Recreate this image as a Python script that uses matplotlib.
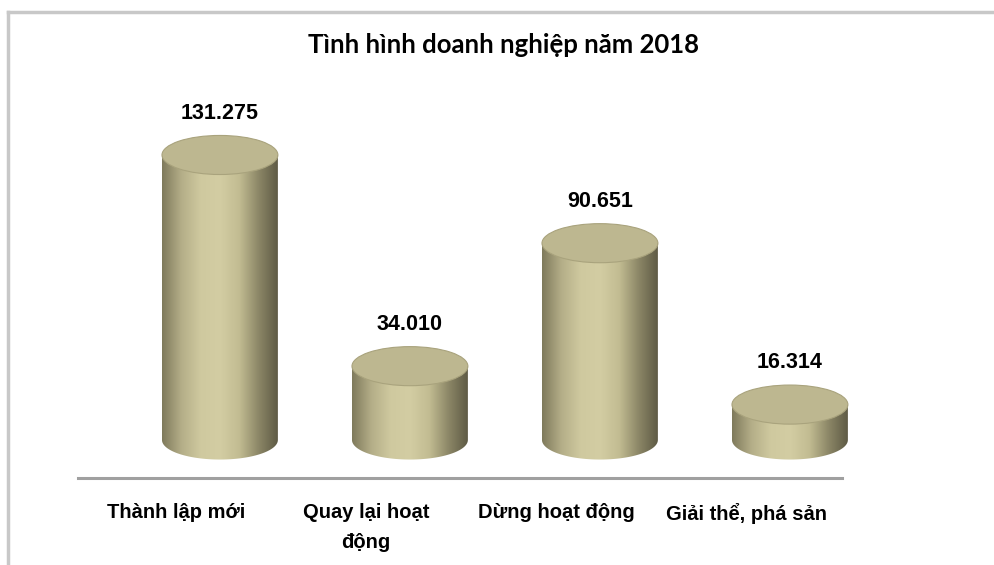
import numpy as np
import matplotlib
matplotlib.use("Agg")
import matplotlib.pyplot as plt
from matplotlib.patches import Ellipse, PathPatch
from matplotlib.path import Path
from matplotlib.colors import LinearSegmentedColormap
from matplotlib.lines import Line2D

title = "Tình hình doanh nghiệp năm 2018"
categories = ["Thành lập mới", "Quay lại hoạt\nđộng", "Dừng hoạt động", "Giải thể, phá sản"]
values = [131.275, 34.010, 90.651, 16.314]
value_labels = ["131.275", "34.010", "90.651", "16.314"]

body_cmap = LinearSegmentedColormap.from_list(
    "cyl", ["#7f7a5c", "#b4ae88", "#cfc99f", "#d3cda3", "#c2bc92", "#8c8767", "#5f5b45"])

fig = plt.figure(figsize=(9.95, 5.65), dpi=100)
# axes wider than the drawn baseline so the last cylinder is not clipped
ax = fig.add_axes([78 / 995, 1 - 478 / 565, (900 - 78) / 995, (478 - 100) / 565])

half_w = 0.305   # half cylinder width, x units
half_h = 9.0     # half ellipse height, y units

grad = np.linspace(0, 1, 256).reshape(1, -1)
for i, v in enumerate(values):
    x0, x1 = i - half_w, i + half_w
    t = np.linspace(np.pi, 2 * np.pi, 60)
    verts = list(zip(i + half_w * np.cos(t), half_h * np.sin(t)))
    verts += [(x1, v), (x0, v), (x0, 0)]
    codes = [Path.MOVETO] + [Path.LINETO] * (len(verts) - 2) + [Path.CLOSEPOLY]
    body = PathPatch(Path(verts, codes), facecolor="none", edgecolor="none")
    ax.add_patch(body)
    im = ax.imshow(grad, cmap=body_cmap, extent=(x0, x1, -half_h, v),
                   aspect="auto", zorder=2)
    im.set_clip_path(body)
    ax.add_patch(Ellipse((i, v), 2 * half_w, 2 * half_h, angle=0,
                         facecolor="#bdb790", edgecolor="#a9a37d", lw=0.8, zorder=3))
    ax.annotate(value_labels[i], (i, v), xytext=(0, 30), textcoords="offset points",
                ha="center", va="center", fontsize=15.5, fontweight="bold",
                family="Liberation Sans")

px_per_unit = 190
ax.set_xlim(-0.747, -0.747 + (900 - 78) / px_per_unit)
ax.set_ylim(-17.5, 156.6)
ax.spines["bottom"].set_bounds(-0.747, -0.747 + (842 - 78) / px_per_unit)
ax.set_xticks([i - 0.23 for i in range(len(categories))])
ax.set_xticklabels(categories, fontsize=14.5, fontweight="bold", family="Liberation Sans",
                   linespacing=1.75)
ax.tick_params(axis="x", length=0, pad=18)
ax.set_yticks([])
for s in ["top", "right", "left"]:
    ax.spines[s].set_visible(False)
ax.spines["bottom"].set_color("#a0a0a0")
ax.spines["bottom"].set_linewidth(2.2)
ax.patch.set_alpha(0)

fig.text(503 / 995, 1 - 45 / 565, title, ha="center", va="center",
         fontsize=18.5, fontweight="bold", family="Lato")

# outer frame of the original picture
fig.add_artist(Line2D([8 / 995, 1], [1 - 12 / 565, 1 - 12 / 565], color="#c8c8c8", lw=2.5))
fig.add_artist(Line2D([8 / 995, 8 / 995], [0, 1 - 12 / 565], color="#c8c8c8", lw=2.5))

fig.savefig("out.png", dpi=100)
